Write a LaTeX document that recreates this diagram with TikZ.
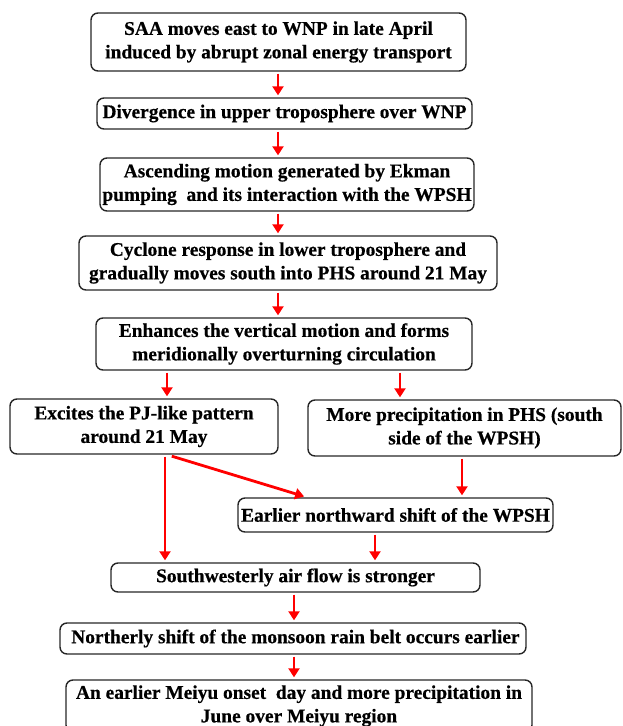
\documentclass[tikz,border=0pt]{standalone}
\usepackage{fontspec}
\setmainfont{Liberation Serif}[BoldFeatures={FakeBold=0.5}]
\usetikzlibrary{arrows.meta}

\begin{document}
\begin{tikzpicture}[x=1pt,y=-1pt,
      box/.style={draw=black!85,line width=1.4pt,rounded corners=7pt,
        inner sep=0pt,align=center,
        font=\fontsize{19.4}{23.5}\selectfont\bfseries},
      arr/.style={red,line width=2.8pt,
        -{Triangle[length=9pt,width=11pt]},
        shorten <=2pt,shorten >=2pt}]
      \useasboundingbox (0,0) rectangle (623,726);
      % boxes
      \node[box,minimum width=375,minimum height=58] (saa) at (278.5,42)
        {SAA moves east to WNP in late April\\induced by abrupt zonal energy transport};
      \node[box,minimum width=375,minimum height=31] (div) at (284.5,113.5)
        {Divergence in upper troposphere over WNP};
      \node[box,minimum width=374,minimum height=53] (asc) at (287,184.5)
        {Ascending motion generated by Ekman\\pumping~ and its interaction with the WPSH};
      \node[box,minimum width=418,minimum height=54] (cyc) at (288,263)
        {Cyclone response in lower troposphere and\\gradually moves south into PHS around 21 May};
      \node[box,minimum width=376,minimum height=52] (enh) at (284,344)
        {Enhances the vertical motion and forms\\meridionally overturning circulation};
      \node[box,minimum width=268,minimum height=55] (pj) at (144,426.5)
        {Excites the PJ-like pattern\\around 21 May};
      \node[box,minimum width=313,minimum height=56] (phs) at (464.5,428)
        {More precipitation in PHS (south\\side of the WPSH)};
      \node[box,minimum width=315,minimum height=34] (wpsh) at (395.5,515)
        {Earlier northward shift of the WPSH};
      \node[box,minimum width=369,minimum height=29] (sw) at (295.5,577.5)
        {Southwesterly air flow is stronger};
      \node[box,minimum width=466,minimum height=31] (belt) at (293,638.5)
        {\ Northerly shift of the monsoon rain belt occurs earlier};
      \node[box,minimum width=466,minimum height=52] (meiyu) at (299,706)
        {An earlier Meiyu onset~ day and more precipitation in\\June over Meiyu region};
      % arrow columns
      \coordinate (xa) at (278,0);
      \coordinate (xl) at (167,0);
      \coordinate (xr) at (400,0);
      \coordinate (xv) at (165,0);
      \coordinate (xd) at (307,0);
      \coordinate (xp) at (462,0);
      \coordinate (xq) at (375,0);
      \coordinate (xm) at (294,0);
      % arrows
      \draw[arr] (saa.south -| xa) -- (div.north -| xa);
      \draw[arr] (div.south -| xa) -- (asc.north -| xa);
      \draw[arr] (asc.south -| xa) -- (cyc.north -| xa);
      \draw[arr] (cyc.south -| xa) -- (enh.north -| xa);
      \draw[arr] (enh.south -| xl) -- (pj.north -| xl);
      \draw[arr] (enh.south -| xr) -- (phs.north -| xr);
      \draw[arr] (pj.south -| xv) -- (sw.north -| xv);
      \draw[arr,shorten <=5pt,shorten >=3pt] (pj.south -| xl) -- (wpsh.north -| xd);
      \draw[arr] (phs.south -| xp) -- (wpsh.north -| xp);
      \draw[arr] (wpsh.south -| xq) -- (sw.north -| xq);
      \draw[arr] (sw.south -| xm) -- (belt.north -| xm);
      \draw[arr] (belt.south -| xm) -- (meiyu.north -| xm);
\end{tikzpicture}
\end{document}
